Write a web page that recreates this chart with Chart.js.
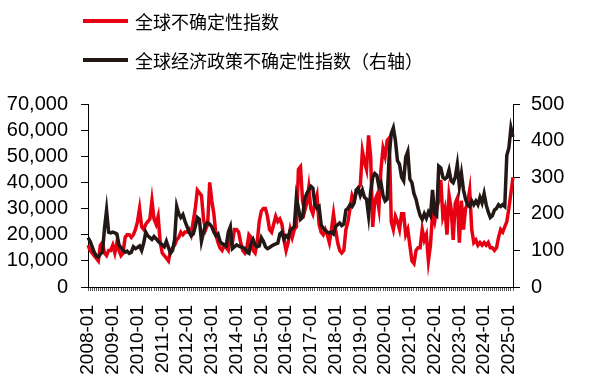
<!DOCTYPE html>
<html>
<head>
<meta charset="utf-8">
<script src="https://cdn.jsdelivr.net/npm/chart.js@4/dist/chart.umd.min.js"></script>
<style>
  html, body { margin: 0; padding: 0; background: #fff; }
  #wrap { position: relative; width: 589px; height: 381px; }
  #legend { position: absolute; left: 83px; top: 0; font-family: "Noto Sans CJK SC", sans-serif; font-size: 18px; color: #000; }
  .item { position: absolute; left: 0; display: flex; align-items: center; white-space: nowrap; }
  .sw { width: 45px; height: 4px; margin-right: 7px; }
</style>
</head>
<body>
<div id="wrap">
  <canvas id="c" width="589" height="381"></canvas>
  <div id="legend">
    <div class="item" style="top:8px"><div class="sw" style="background:#E60012"></div><span>全球不确定性指数</span></div>
    <div class="item" style="top:47px"><div class="sw" style="background:#231815"></div><span>全球经济政策不确定性指数（右轴）</span></div>
  </div>
</div>
<script>
const startYear = 2008;
const monthCount = 207; // 2008-01 .. 2025-03
const seriesNames = ['全球不确定性指数', '全球经济政策不确定性指数（右轴）'];
const leftTicks = [0, 10000, 20000, 30000, 40000, 50000, 60000, 70000];
const rightTicks = [0, 100, 200, 300, 400, 500];

const wui = [
  16000,14000,13000,12000,11000,10000,16000,17000,13000,12000,14000,14000,
  16000,13000,17000,14000,12000,13000,19000,20000,20000,19000,20000,22000,
  25000,30000,23000,22000,24000,25000,26000,33000,26000,24000,27000,17000,
  13000,12000,11000,10000,14000,15000,16000,18000,19000,21000,20000,21000,
  21000,22000,20000,25000,30000,37000,36000,35000,26000,22000,24000,40000,
  33000,28000,20000,17000,15000,14000,16000,15000,14000,20000,17000,22000,
  22000,21000,17000,14000,13000,15000,20000,19000,14000,13000,17000,25000,
  29000,30000,30000,27000,22000,21000,24000,27000,25000,26000,24000,18000,
  14000,17000,22000,19000,22000,23000,45000,46000,33000,29000,32000,38000,
  30000,28000,32000,35000,24000,21000,20000,22000,20000,17000,22000,28000,
  22000,17000,14000,13000,14000,22000,25000,30000,35000,33000,36000,38000,
  39000,52000,48000,45000,58000,50000,23000,33000,35000,30000,45000,53000,
  50000,56000,57000,25000,22000,27000,25000,22000,28000,28000,20000,22000,
  16000,10000,9000,14000,15000,15000,22000,18000,20000,10000,16000,28000,
  25000,30000,33000,41000,27000,30000,20000,35000,30000,18000,32000,34000,
  17000,33000,22000,30000,32000,37000,22000,17000,18000,16000,17000,16000,
  17000,16000,17000,15000,15000,14000,15000,19000,22000,21000,23000,25000,
  30000,36000,42000
];

const epu = [
  135,125,110,95,85,82,90,95,160,210,150,148,
  150,148,145,115,108,100,95,98,92,95,110,105,
  108,112,100,120,150,140,135,130,138,132,125,120,
  115,110,125,108,92,100,130,220,200,190,198,180,
  165,150,140,145,165,190,185,125,150,170,175,172,
  165,150,140,145,125,118,115,112,150,165,105,110,
  115,112,110,108,105,95,92,120,130,115,110,112,
  135,125,110,105,108,112,115,118,120,145,150,130,
  140,135,155,160,165,245,215,185,190,240,255,265,
  275,270,225,215,220,170,160,155,150,148,150,145,
  165,170,175,168,172,210,215,225,220,230,265,270,
  250,265,245,240,195,260,300,310,305,275,285,250,
  235,240,360,420,435,400,345,335,300,290,355,370,
  295,285,255,240,215,195,185,200,188,205,195,265,
  200,195,330,325,300,295,300,320,290,285,300,335,
  275,310,265,240,225,220,235,225,235,225,245,230,
  255,225,205,190,195,210,215,225,220,225,220,360,
  380,435,410
];

const months = [];
for (let k = 0; k < monthCount; k++) {
  const y = startYear + Math.floor(k / 12);
  const m = (k % 12) + 1;
  months.push(y + '-' + (m < 10 ? '0' + m : '' + m));
}

const numFont = { family: '"Liberation Sans", Arial, sans-serif', size: 19 };

new Chart(document.getElementById('c'), {
  type: 'line',
  data: {
    labels: months,
    datasets: [
      { label: seriesNames[0], data: wui, yAxisID: 'y', borderColor: '#E60012', backgroundColor: '#E60012',
        borderWidth: 3.5, pointRadius: 0, tension: 0, order: 2 },
      { label: seriesNames[1], data: epu, yAxisID: 'y1', borderColor: '#231815', backgroundColor: '#231815',
        borderWidth: 3.5, pointRadius: 0, tension: 0, order: 1 }
    ]
  },
  options: {
    responsive: false,
    animation: false,
    layout: { padding: { top: 104, left: 0, right: 0, bottom: 0 } },
    plugins: { legend: { display: false }, tooltip: { enabled: false } },
    scales: {
      x: {
        type: 'category',
        offset: false,
        afterFit: s => { s.height = 94; },
        border: { display: true, color: '#000', width: 1 },
        grid: { display: true, drawOnChartArea: false, drawTicks: true, tickLength: 4, color: '#555', lineWidth: 1 },
        ticks: {
          autoSkip: false, maxRotation: 90, minRotation: 90, padding: 14,
          color: '#000', font: numFont,
          callback: function (v) { const l = this.getLabelForValue(v); return l.endsWith('-01') ? l : ''; }
        }
      },
      y: {
        position: 'left', min: 0, max: 70000,
        afterFit: s => { s.width = 88; },
        afterBuildTicks: s => { s.ticks = leftTicks.map(v => ({ value: v })); },
        border: { display: true, color: '#000', width: 1 },
        grid: { display: true, drawOnChartArea: false, drawTicks: true, tickLength: 7, color: '#000' },
        ticks: { autoSkip: false, padding: 13, color: '#000', font: { family: numFont.family, size: 20 },
          callback: v => v.toLocaleString('en-US') }
      },
      y1: {
        position: 'right', min: 0, max: 500,
        afterFit: s => { s.width = 76; },
        afterBuildTicks: s => { s.ticks = rightTicks.map(v => ({ value: v })); },
        border: { display: true, color: '#000', width: 1 },
        grid: { display: true, drawOnChartArea: false, drawTicks: true, tickLength: 7, color: '#000' },
        ticks: { autoSkip: false, padding: 11, color: '#000', font: { family: numFont.family, size: 20 } }
      }
    }
  }
});
</script>
</body>
</html>
